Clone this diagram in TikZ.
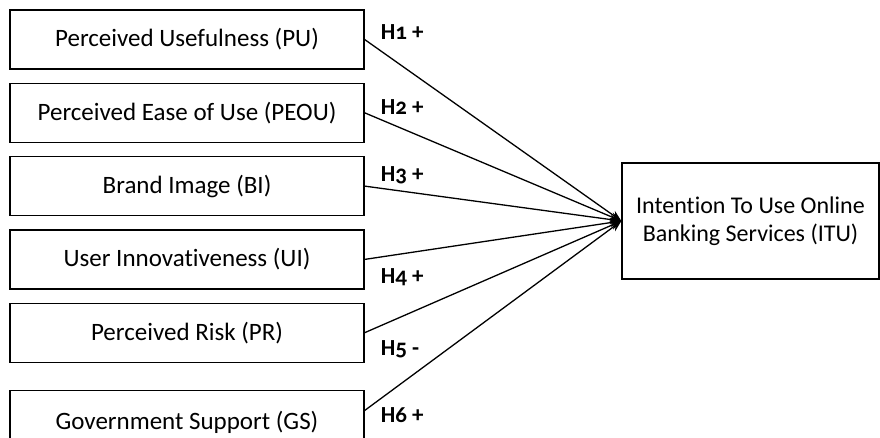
\documentclass[tikz,border=0pt]{standalone}
\usepackage{fontspec}
\setmainfont[Ligatures=NoCommon]{Carlito}
\newfontfamily\hypfont[Numbers=OldStyle]{Carlito}
\usetikzlibrary{positioning, arrows.meta}

\begin{document}
\begin{tikzpicture}[
    x=1pt, y=-1pt,
    >=Stealth,
    node distance=13pt and 1cm,
    cbox/.style={draw, line width=1.3pt, minimum width=354pt, minimum height=59pt,
                 inner sep=0pt, font=\fontsize{25}{29}\selectfont},
    tbox/.style={draw, line width=1.3pt, minimum width=257pt, minimum height=116pt,
                 inner sep=0pt, align=center, font=\fontsize{24}{28}\selectfont},
    hlab/.style={anchor=base west, inner sep=0pt, font=\hypfont\bfseries\fontsize{23}{27}\selectfont},
    arrow/.style={-{Stealth[length=11pt, width=9pt]}, line width=1.3pt},
]
\path[use as bounding box, clip] (0,0) rectangle (880,437);

% ============================================================
% Constructs (left column)
% ============================================================
\node[cbox] (PU) at (187,39.5) {Perceived Usefulness (PU)};
\node[cbox, below=of PU] (PEOU) {Perceived Ease of Use (PEOU)};
\node[cbox, below=of PEOU] (BI) {Brand Image (BI)};
\node[cbox, below=of BI] (UI) {User Innovativeness (UI)};
\node[cbox, below=of UI] (PR) {Perceived Risk (PR)};
\node[cbox, below=27pt of PR, minimum height=64pt] (GS) {Government Support (GS)};

% Dependent variable
\node[tbox] (ITU) at (750.5,221) {Intention To Use Online\\Banking Services (ITU)};

% ============================================================
% Hypotheses
% ============================================================
\draw[arrow] (PU.east) -- (ITU.west);
\draw[arrow] (PEOU.east) -- (ITU.west);
\draw[arrow] (BI.east) -- (ITU.west);
\draw[arrow] (UI.east) -- (ITU.west);
\draw[arrow] (PR.east) -- (ITU.west);
\draw[arrow] ([yshift=12pt]GS.east) -- (ITU.west);

\node[hlab] (h1) at ([xshift=16pt]PU.east) {H1 +};
\node[hlab] (h2) at ([xshift=16pt, yshift=-1.5pt]PEOU.east) {H2 +};
\node[hlab] (h3) at ([xshift=16pt, yshift=5pt]BI.east) {H3 +};
\node[hlab] (h4) at ([xshift=16pt, yshift=-24pt]UI.east) {H4 +};
\node[hlab] (h5) at ([xshift=16pt, yshift=-22.5pt]PR.east) {H5 -};
\node[hlab] (h6) at ([xshift=16pt]GS.east) {H6 +};

\end{tikzpicture}
\end{document}
